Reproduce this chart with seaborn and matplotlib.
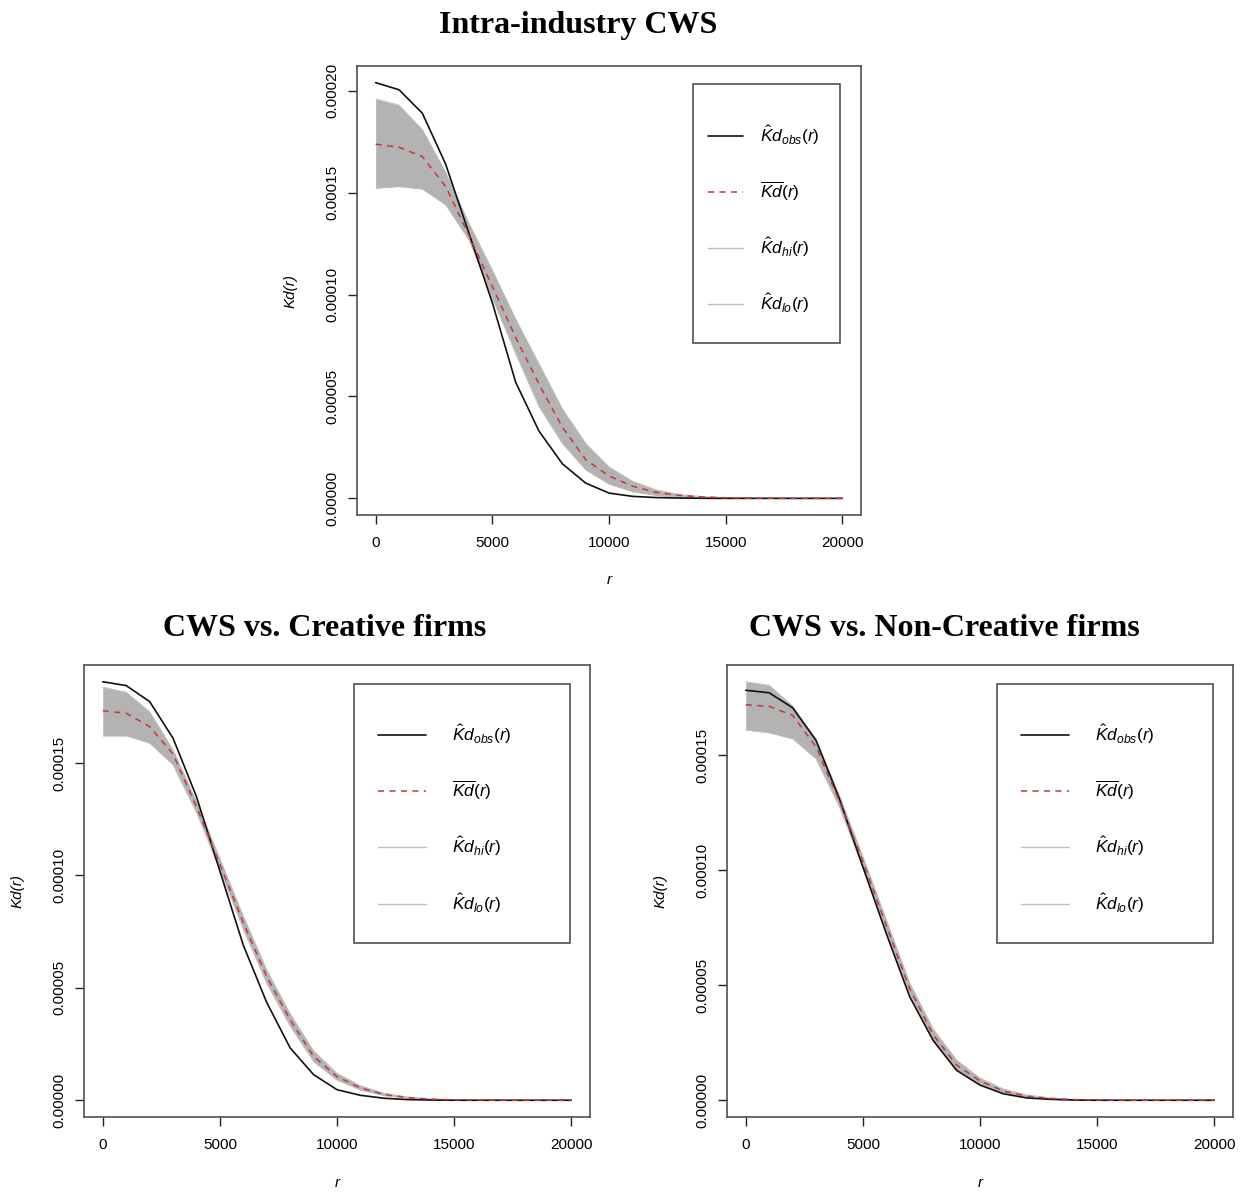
import numpy as np
import pandas as pd
import matplotlib
matplotlib.use("Agg")
import matplotlib.pyplot as plt
from matplotlib.lines import Line2D
from matplotlib.patches import Rectangle
import seaborn as sns

# ---------------- data (values x 1e-6) ----------------
r_values = [0, 1000, 2000, 3000, 4000, 5000, 6000, 7000, 8000, 9000, 10000,
            11000, 12000, 13000, 14000, 15000, 16000, 17000, 18000, 19000, 20000]

intra_obs = [204, 200.5, 189, 164, 130, 96, 57, 33, 17, 7.5, 2.6,
             1.0, 0.4, 0.15, 0.05, 0, 0, 0, 0, 0, 0]
intra_mean = [173.8, 172.3, 167.7, 153, 129, 104, 79, 56, 35, 19, 11,
              6, 3, 1.5, 0.7, 0.3, 0.1, 0.05, 0, 0, 0]
intra_hi = [196, 193, 181, 160, 135, 112, 88, 66, 44, 27, 15.5,
            8.5, 4.3, 2, 0.9, 0.4, 0.2, 0.1, 0, 0, 0]
intra_lo = [152.2, 153, 151.8, 144, 126.7, 98, 71, 45, 27, 14, 7,
            3.3, 1.5, 0.6, 0.2, 0.1, 0, 0, 0, 0, 0]

crea_obs = [186.2, 184.5, 177.4, 161.1, 135.1, 102, 69, 43.5, 23.3, 11.4, 4.7,
            2.2, 0.9, 0.3, 0.1, 0, 0, 0, 0, 0, 0]
crea_mean = [173.3, 172.2, 166.3, 154, 130.7, 105, 79, 55, 35.8, 19.5, 10.5,
             5.5, 2.6, 1.2, 0.5, 0.2, 0.1, 0, 0, 0, 0]
crea_hi = [183.8, 181.6, 172.9, 155.9, 133, 107.5, 82, 58, 38.5, 22, 12,
           6.5, 3.2, 1.5, 0.6, 0.25, 0.1, 0.05, 0, 0, 0]
crea_lo = [162.1, 162.1, 158.9, 149.2, 128, 102.5, 76, 52, 33, 17.2, 9,
           4.6, 2.1, 0.9, 0.35, 0.1, 0, 0, 0, 0, 0]

noncrea_obs = [178.3, 177.2, 170.7, 156.5, 131, 101.5, 72.5, 45, 26, 13, 6.6,
               2.8, 1.0, 0.4, 0.1, 0, 0, 0, 0, 0, 0]
noncrea_mean = [172, 171.3, 167.4, 153.7, 130, 104, 76, 48.5, 28.5, 15.3, 8.4,
                4, 1.8, 0.8, 0.3, 0.1, 0, 0, 0, 0, 0]
noncrea_hi = [182, 180.5, 171.5, 157, 132.5, 106, 78.5, 51, 31, 17.5, 9.7,
              4.9, 2.3, 1.0, 0.4, 0.15, 0.05, 0, 0, 0, 0]
noncrea_lo = [161, 159.8, 157.2, 148.5, 127.5, 101, 73, 46, 26, 13.2, 7.1,
              3.2, 1.3, 0.5, 0.2, 0.05, 0, 0, 0, 0, 0]

titles = ["Intra-industry CWS", "CWS vs. Creative firms", "CWS vs. Non-Creative firms"]
x_ticks = [0, 5000, 10000, 15000, 20000]
y_ticks_top = [0, 0.00005, 0.00010, 0.00015, 0.00020]
y_ticks_bottom = [0, 0.00005, 0.00010, 0.00015]
legend_labels = [r"$\hat{K}d_{obs}(r)$", r"$\overline{Kd}(r)$",
                 r"$\hat{K}d_{hi}(r)$", r"$\hat{K}d_{lo}(r)$"]

# ---------------- style ----------------
sns.set_theme(style="white")
plt.rcParams["font.family"] = ["Liberation Sans", "DejaVu Sans"]
plt.rcParams["mathtext.fontset"] = "custom"
plt.rcParams["mathtext.rm"] = "Liberation Sans"
plt.rcParams["mathtext.it"] = "Liberation Sans:italic"
plt.rcParams["mathtext.bf"] = "Liberation Sans:bold"
plt.rcParams["text.color"] = "black"
plt.rcParams["axes.labelcolor"] = "black"

BAND = "#b3b3b3"
OBS = "#111111"
MEAN = "#cc3535"
HILO = "#bdbdbd"
FRAME = "#505050"
FS_LEG = 12.5

W, H = 1245, 1192
fig = plt.figure(figsize=(W / 100, H / 100), dpi=100)


def box(x0, y0, x1, y1):
    return [x0 / W, 1 - y1 / H, (x1 - x0) / W, (y1 - y0) / H]


panels = [
    dict(rect=box(357, 66, 861, 515), obs=intra_obs, mean=intra_mean, hi=intra_hi, lo=intra_lo,
         yt=y_ticks_top, frame=(0.667, 0.383, 0.958, 0.960), anchor=(0.696, 0.872),
         hl=2.0, htp=0.98, ls=1.86),
    dict(rect=box(84, 665, 590, 1117), obs=crea_obs, mean=crea_mean, hi=crea_hi, lo=crea_lo,
         yt=y_ticks_bottom, frame=(0.534, 0.385, 0.961, 0.958), anchor=(0.581, 0.873),
         hl=2.76, htp=1.5, ls=1.88),
    dict(rect=box(727, 665, 1233, 1117), obs=noncrea_obs, mean=noncrea_mean, hi=noncrea_hi,
         lo=noncrea_lo, yt=y_ticks_bottom, frame=(0.534, 0.385, 0.961, 0.958),
         anchor=(0.581, 0.873), hl=2.76, htp=1.5, ls=1.88),
]

for p in panels:
    ax = fig.add_axes(p["rect"])
    df = pd.DataFrame({
        "r": r_values,
        "obs": np.array(p["obs"]) * 1e-6,
        "mean": np.array(p["mean"]) * 1e-6,
        "hi": np.array(p["hi"]) * 1e-6,
        "lo": np.array(p["lo"]) * 1e-6,
    })
    ax.fill_between(df["r"], df["lo"], df["hi"], color=BAND, linewidth=0, zorder=1)
    sns.lineplot(data=df, x="r", y="hi", ax=ax, color=HILO, linewidth=0.6, zorder=2)
    sns.lineplot(data=df, x="r", y="lo", ax=ax, color=HILO, linewidth=0.6, zorder=2)
    sns.lineplot(data=df, x="r", y="obs", ax=ax, color=OBS, linewidth=1.2, zorder=3)
    sns.lineplot(data=df, x="r", y="mean", ax=ax, color=MEAN, linewidth=1.1,
                 linestyle=(0, (4, 3.5)), zorder=4)

    ymax = max(df[["obs", "mean", "hi", "lo"]].max())
    ax.set_xlim(-800, 20800)
    ax.set_ylim(-0.04 * ymax, 1.04 * ymax)
    ax.set_xticks(x_ticks)
    ax.set_xticklabels([str(v) for v in x_ticks])
    ax.set_yticks(p["yt"])
    ax.set_yticklabels([f"{v:.5f}" for v in p["yt"]])
    ax.tick_params(axis="both", direction="out", length=6.5, width=1.0, color="#222222",
                   labelsize=11, labelcolor="black", bottom=True, left=True)
    ax.tick_params(axis="x", pad=8.5)
    ax.tick_params(axis="y", pad=6)
    for lab in ax.get_yticklabels():
        lab.set_rotation(90)
        lab.set_va("center")
        lab.set_ha("right")
    for s in ax.spines.values():
        s.set_color(FRAME)
        s.set_linewidth(1.2)

    ax.set_xlabel("r", style="italic", fontsize=11)
    ax.set_ylabel("Kd(r)", style="italic", fontsize=11)
    ax.xaxis.set_label_coords(0.5, -0.145)
    ax.xaxis.label.set_va("center")
    ax.yaxis.set_label_coords(-0.132, 0.5)
    ax.yaxis.label.set_va("center")

    # legend frame (R-style box)
    fx0, fy0, fx1, fy1 = p["frame"]
    ax.add_patch(Rectangle((fx0, fy0), fx1 - fx0, fy1 - fy0, transform=ax.transAxes,
                           facecolor="white", edgecolor=FRAME, linewidth=1.2, zorder=5))

    handles = [
        Line2D([], [], color=OBS, linewidth=1.2),
        Line2D([], [], color=MEAN, linewidth=1.1, linestyle=(0, (4, 3.5))),
        Line2D([], [], color=HILO, linewidth=1.0),
        Line2D([], [], color=HILO, linewidth=1.0),
    ]
    leg = ax.legend(handles, legend_labels, loc="upper left",
                    bbox_to_anchor=p["anchor"], fontsize=FS_LEG, frameon=False,
                    borderpad=0, borderaxespad=0, labelspacing=p["ls"],
                    handlelength=p["hl"], handletextpad=p["htp"])
    leg.set_zorder(6)

serif = ["Liberation Serif", "DejaVu Serif"]
fig.text(578 / W, 1 - 25 / H, titles[0], ha="center", va="center", color="black",
         fontsize=23, fontweight="bold", family=serif)
fig.text(325 / W, 1 - 628 / H, titles[1], ha="center", va="center", color="black",
         fontsize=23, fontweight="bold", family=serif)
fig.text(944 / W, 1 - 628 / H, titles[2], ha="center", va="center", color="black",
         fontsize=23, fontweight="bold", family=serif)

fig.savefig("out.png", dpi=100, facecolor="white")
